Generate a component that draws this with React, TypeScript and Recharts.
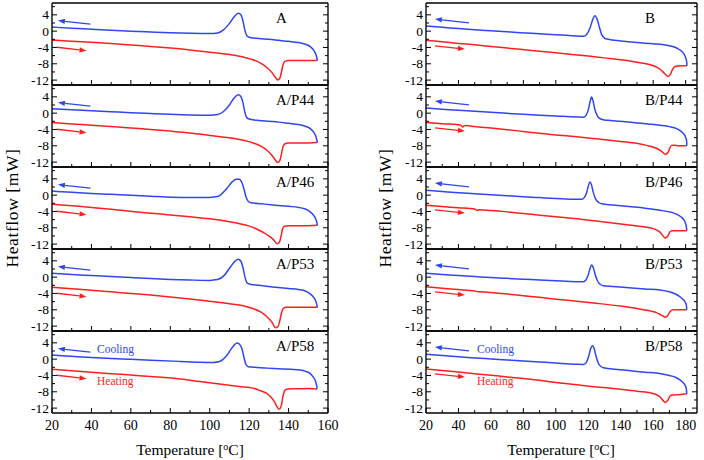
import React from "react";
import { LineChart, Line, XAxis, YAxis, ReferenceLine, CartesianGrid } from "recharts";

const BLUE = "#3046f2";
const RED = "#ff1f1f";
const SERIF = '"Liberation Serif", "Times New Roman", serif';

// axis ticks
const flowTicks = [-12, -10, -8, -6, -4, -2, 0, 2, 4, 6];
const flowLabels = [-12, -8, -4, 0, 4];
const flowDomain = [-13.2, 6.9];

const tempTicksA = [20, 30, 40, 50, 60, 70, 80, 90, 100, 110, 120, 130, 140, 150, 160];
const tempLabelsA = [20, 40, 60, 80, 100, 120, 140, 160];
const tempTicksB = [20, 30, 40, 50, 60, 70, 80, 90, 100, 110, 120, 130, 140, 150, 160, 170, 180];
const tempLabelsB = [20, 40, 60, 80, 100, 120, 140, 160, 180];

// direction arrows [from, to] as [°C, mW]
const coolArrowA = [[39.5, 1.7], [23, 2.6]];
const heatArrowA = [[22.5, -3.95], [37.5, -4.8]];
const coolArrowB = [[46.5, 2.05], [25.5, 2.95]];
const heatArrowB = [[25.5, -3.6], [44, -4.4]];

// DSC curves, [temperature °C, heatflow mW]
const coolA = [[20, 1.0], [30, 0.72], [40, 0.47], [50, 0.22], [60, 0.0], [70, -0.2], [80, -0.4], [90, -0.52], [100, -0.58], [104, -0.45], [107, 0.3], [110, 1.9], [112.5, 3.6], [114.5, 4.4], [115.8, 4.0], [116.8, 2.6], [117.8, 0.3], [118.8, -1.1], [120.5, -1.55], [125, -1.8], [130, -2.0], [135, -2.25], [140, -2.5], [145, -2.8], [148.5, -3.2], [151, -3.8], [152.8, -4.7], [153.9, -5.8], [154.4, -6.7], [154.6, -7.2]];
const heatA = [[20, -2.2], [30, -2.5], [40, -2.75], [50, -3.05], [60, -3.4], [70, -3.75], [80, -4.15], [90, -4.6], [100, -5.15], [110, -5.75], [117, -6.35], [122, -7.0], [126, -7.9], [129, -8.9], [131.5, -10.1], [133.3, -11.3], [134.5, -11.95], [135.5, -11.6], [136.4, -10.0], [137.2, -8.2], [138.2, -7.4], [140, -7.2], [145, -7.2], [150, -7.2], [154.6, -7.2]];

const coolAP44 = [[20, 1.1], [30, 0.85], [40, 0.6], [50, 0.35], [60, 0.1], [70, -0.1], [80, -0.3], [90, -0.45], [100, -0.5], [104, -0.35], [107, 0.4], [110, 2.0], [112.5, 3.8], [114.5, 4.5], [115.8, 4.1], [116.8, 2.7], [117.8, 0.3], [118.8, -1.1], [120.5, -1.5], [125, -1.8], [130, -2.0], [135, -2.2], [140, -2.5], [145, -2.8], [148.5, -3.2], [151, -3.8], [152.8, -4.7], [153.9, -5.8], [154.4, -6.7], [154.6, -7.2]];
const heatAP44 = [[20, -2.3], [30, -2.65], [40, -2.95], [50, -3.3], [60, -3.65], [70, -4.0], [80, -4.4], [90, -4.85], [100, -5.45], [110, -6.05], [117, -6.65], [122, -7.3], [126, -8.1], [129, -9.1], [131.5, -10.3], [133.3, -11.5], [134.5, -12.1], [135.5, -11.7], [136.4, -10.0], [137.2, -8.2], [138.2, -7.5], [140, -7.3], [145, -7.3], [150, -7.3], [154.6, -7.2]];

const coolAP46 = [[20, 1.0], [30, 0.7], [40, 0.43], [50, 0.2], [60, 0.0], [70, -0.25], [81, -0.5], [90, -0.55], [100, -0.55], [104, -0.35], [108.6, 1.6], [111.5, 3.3], [113.5, 3.9], [115, 3.9], [116.3, 3.1], [117.5, 1.3], [118.5, -0.6], [119.6, -1.55], [121, -1.85], [126, -2.1], [132, -2.4], [140, -2.75], [145, -3.0], [148.5, -3.4], [151, -4.1], [152.8, -5.0], [153.9, -6.0], [154.4, -6.8], [154.6, -7.4]];
const heatAP46 = [[20, -2.2], [30, -2.6], [40, -3.0], [50, -3.45], [64.6, -4.2], [80, -4.85], [90, -5.3], [100, -5.8], [110, -6.5], [118.8, -7.4], [123, -8.1], [127, -9.1], [130, -10.0], [132.3, -10.9], [134.2, -11.9], [135.3, -11.6], [136.2, -10.0], [137, -8.2], [138, -7.6], [140, -7.5], [145, -7.5], [150, -7.5], [154.6, -7.4]];

const coolAP53 = [[20, 0.95], [30, 0.65], [40, 0.4], [50, 0.15], [60, -0.1], [70, -0.35], [80, -0.55], [90, -0.7], [100, -0.8], [104, -0.6], [107.5, 0.5], [110.5, 2.5], [113, 4.0], [114.5, 4.4], [115.8, 3.9], [116.8, 2.5], [117.8, 0.2], [118.8, -1.3], [120.5, -1.75], [125, -2.0], [132, -2.4], [140, -2.8], [145, -3.05], [148.5, -3.4], [151, -4.1], [152.8, -5.0], [153.9, -6.0], [154.4, -6.9], [154.6, -7.4]];
const heatAP53 = [[20, -2.5], [30, -2.85], [40, -3.2], [50, -3.6], [60, -4.0], [70, -4.4], [80, -4.85], [90, -5.35], [100, -5.9], [110, -6.5], [117, -7.0], [122, -7.7], [126, -8.6], [129, -9.7], [131.5, -11.0], [133.4, -12.4], [134.5, -12.2], [135.5, -10.8], [136.5, -8.6], [137.5, -7.6], [139, -7.35], [145, -7.35], [150, -7.4], [154.6, -7.4]];

const coolAP58 = [[20, 1.0], [30, 0.7], [40, 0.4], [50, 0.15], [60, -0.05], [70, -0.25], [85, -0.55], [95, -0.75], [102, -0.8], [105, -0.6], [108, 0.5], [110.5, 2.2], [112.5, 3.5], [113.8, 3.95], [115, 3.7], [116.3, 2.6], [117.3, 0.6], [118.3, -1.2], [119.5, -1.85], [124, -2.05], [129, -2.2], [135, -2.35], [141, -2.5], [145.8, -2.65], [148.8, -3.0], [150.9, -3.5], [152.5, -4.4], [153.6, -5.3], [154.3, -6.7], [154.5, -7.3]];
const heatAP58 = [[20, -2.5], [30, -2.85], [40, -3.2], [50, -3.55], [60, -3.9], [70, -4.25], [85, -4.85], [95, -5.5], [105, -6.1], [115, -6.7], [122, -7.1], [126, -7.8], [128.9, -8.4], [131, -9.3], [132.8, -10.4], [134.2, -11.7], [135.2, -12.3], [136.2, -11.6], [137.2, -9.0], [138.2, -7.6], [139.5, -7.3], [145, -7.25], [150, -7.2], [154.5, -7.3]];

const coolB = [[20, 1.25], [30, 0.95], [40, 0.65], [50, 0.35], [60, 0.1], [70, -0.15], [78, -0.38], [90, -0.65], [100, -0.9], [110, -1.1], [117, -1.25], [119, -0.8], [121, 0.7], [122.7, 2.8], [124, 3.8], [125.3, 3.1], [126.7, 1.2], [128.2, -0.8], [130, -1.7], [132.3, -2.0], [140, -2.4], [150, -2.8], [160, -3.1], [168.3, -3.45], [173, -3.9], [176, -4.5], [178.6, -5.4], [180, -6.5], [180.7, -7.7], [180.8, -8.5]];
const heatB = [[20, -2.2], [30, -2.6], [40, -3.0], [50, -3.35], [60, -3.75], [70, -4.15], [78, -4.45], [90, -4.9], [100, -5.3], [110, -5.7], [120, -6.1], [130, -6.55], [140, -7.0], [150, -7.6], [157, -8.1], [161, -8.6], [164.5, -9.4], [167.3, -10.5], [169.2, -11.1], [170.6, -10.6], [171.8, -9.5], [173, -8.8], [175, -8.55], [178, -8.5], [180.8, -8.5]];

const coolBP44 = [[20, 1.25], [30, 0.95], [40, 0.7], [50, 0.45], [60, 0.2], [70, -0.05], [80, -0.3], [90, -0.5], [100, -0.7], [112.9, -0.95], [117, -1.0], [118.5, -0.6], [120, 0.8], [121, 2.6], [122, 3.95], [123, 2.9], [124, 1.0], [125.5, -0.6], [127, -1.3], [129, -1.6], [132, -1.75], [139.5, -2.0], [150, -2.4], [158, -2.7], [164.2, -2.97], [170, -3.3], [174.5, -3.8], [177, -4.4], [178.6, -5.0], [180, -5.9], [180.6, -6.8], [180.7, -8.0]];
const heatBP44 = [[20, -2.3], [30, -2.6], [40, -2.85], [41.5, -3.0], [42.5, -3.4], [43.5, -3.1], [45, -3.05], [50, -3.3], [60, -3.65], [70, -4.05], [80, -4.5], [90, -4.95], [100, -5.35], [112.9, -5.8], [125, -6.3], [140, -6.95], [149.8, -7.4], [156, -7.9], [160, -8.3], [162, -8.6], [165, -9.3], [167.5, -10.1], [169, -9.7], [170.2, -8.6], [171.2, -7.9], [173, -7.85], [176, -8.0], [180.7, -8.0]];

const coolBP46 = [[20, 1.2], [30, 0.9], [40, 0.6], [50, 0.35], [60, 0.1], [70, -0.15], [80, -0.4], [90, -0.6], [100, -0.8], [112.9, -1.0], [116, -1.0], [117.5, -0.6], [119, 0.6], [120, 2.2], [121, 3.2], [122, 2.5], [123, 0.8], [124.5, -0.9], [126.5, -1.8], [128.2, -2.1], [135, -2.4], [145, -2.8], [155, -3.2], [164.2, -3.7], [170, -4.1], [174.5, -4.7], [177, -5.3], [178.6, -5.9], [180, -7.0], [180.6, -8.2], [180.7, -8.7]];
const heatBP46 = [[20, -2.5], [30, -2.8], [40, -3.1], [50, -3.4], [51.5, -3.75], [53, -3.55], [60, -3.75], [70, -4.1], [80, -4.5], [90, -4.9], [100, -5.3], [112.9, -5.8], [125, -6.35], [140, -7.05], [150, -7.55], [160, -8.2], [164, -9.0], [167.5, -10.5], [169, -10.0], [170.3, -9.0], [171.5, -8.7], [175, -8.7], [180.7, -8.7]];

const coolBP53 = [[20, 0.95], [30, 0.65], [40, 0.4], [50, 0.15], [60, -0.1], [70, -0.3], [80, -0.5], [90, -0.7], [100, -0.9], [112.9, -1.1], [117, -1.1], [118.5, -0.7], [120, 0.6], [121, 2.0], [122.1, 2.98], [123.2, 2.2], [124.3, 0.6], [125.8, -1.0], [127.5, -1.8], [129.3, -2.1], [135, -2.3], [145, -2.6], [155, -2.9], [164.2, -3.15], [170, -3.6], [174, -4.2], [176.5, -4.8], [178.8, -5.6], [180.3, -6.6], [180.7, -8.0]];
const heatBP53 = [[20, -2.35], [30, -2.7], [40, -3.05], [50, -3.4], [52, -3.6], [53.5, -3.55], [60, -3.75], [70, -4.15], [80, -4.55], [90, -4.95], [100, -5.4], [112.9, -5.9], [125, -6.4], [140, -7.1], [150, -7.7], [157, -8.2], [162, -8.7], [165, -9.3], [167.5, -9.8], [169, -9.4], [170.5, -8.4], [172.4, -8.0], [176, -8.0], [180.7, -8.0]];

const coolBP58 = [[20, 1.2], [30, 0.9], [40, 0.6], [50, 0.3], [60, 0.05], [70, -0.2], [80, -0.45], [90, -0.7], [100, -0.95], [112.9, -1.25], [117, -1.3], [118.8, -0.8], [120.3, 0.8], [121.5, 2.6], [122.6, 3.3], [123.7, 2.5], [124.8, 0.7], [126.2, -1.0], [127.8, -1.8], [129.3, -2.1], [135, -2.4], [145, -2.8], [155, -3.2], [164, -3.5], [170, -4.0], [174, -4.5], [176.5, -5.1], [178.8, -5.9], [180.3, -7.0], [180.7, -8.5]];
const heatBP58 = [[20, -2.4], [30, -2.8], [40, -3.15], [50, -3.55], [60, -3.95], [70, -4.35], [80, -4.75], [90, -5.2], [100, -5.7], [112.9, -6.3], [125, -6.8], [140, -7.4], [150, -7.85], [160, -8.4], [164, -9.2], [167.5, -10.6], [169, -10.1], [170.5, -9.0], [172, -8.8], [176, -8.7], [180.7, -8.5]];

const panelsA = [
  { name: "A", cool: coolA, heat: heatA },
  { name: "A/P44", cool: coolAP44, heat: heatAP44 },
  { name: "A/P46", cool: coolAP46, heat: heatAP46 },
  { name: "A/P53", cool: coolAP53, heat: heatAP53 },
  { name: "A/P58", cool: coolAP58, heat: heatAP58 },
];
const panelsB = [
  { name: "B", cool: coolB, heat: heatB },
  { name: "B/P44", cool: coolBP44, heat: heatBP44 },
  { name: "B/P46", cool: coolBP46, heat: heatBP46 },
  { name: "B/P53", cool: coolBP53, heat: heatBP53 },
  { name: "B/P58", cool: coolBP58, heat: heatBP58 },
];

const colA = { left: 0, plotW: 276, padR: 14, domain: [20, 160], ticks: tempTicksA, labels: tempLabelsA, coolArrow: coolArrowA, heatArrow: heatArrowA, titleX: 190, yTitleX: 12, legendX: 45 };
const colB = { left: 374, plotW: 271, padR: 4, domain: [20, 187], ticks: tempTicksB, labels: tempLabelsB, coolArrow: coolArrowB, heatArrow: heatArrowB, titleX: 561, yTitleX: 385, legendX: 51 };

const PANEL_TOP = 3;
const PANEL_H = 82;
const AXIS_W = 52;
const PAD_Y = 7;
const frame = { stroke: "#000", strokeWidth: 1.3 };

const toRows = (pts: number[][]) => pts.map(([t, h]) => ({ t, h }));

const BottomTick = (p: any) => {
  const major = p.labels.includes(p.payload.value);
  return (
    <g>
      <line x1={p.x} y1={p.y} x2={p.x} y2={p.y - (major ? 5 : 3)} stroke="#000" />
      {p.show && major && (
        <text x={p.x} y={p.y + 17} textAnchor="middle" fontSize={14} fontFamily={SERIF} fill="#000">{p.payload.value}</text>
      )}
    </g>
  );
};
const TopTick = (p: any) => {
  const major = p.labels.includes(p.payload.value);
  return <line x1={p.x} y1={p.y} x2={p.x} y2={p.y + (major ? 5 : 3)} stroke="#000" />;
};
const LeftTick = (p: any) => {
  const major = flowLabels.includes(p.payload.value);
  return (
    <g>
      <line x1={p.x} y1={p.y} x2={p.x + (major ? 5 : 3)} y2={p.y} stroke="#000" />
      {major && (
        <text x={p.x - 3} y={p.y + 4.5} textAnchor="end" fontSize={13.5} fontFamily={SERIF} fill="#000">{p.payload.value}</text>
      )}
    </g>
  );
};
const RightTick = (p: any) => {
  const major = flowLabels.includes(p.payload.value);
  return <line x1={p.x} y1={p.y} x2={p.x - (major ? 5 : 3)} y2={p.y} stroke="#000" />;
};

const arrowShape = (color: string) => (p: any) => {
  const { x1, y1, x2, y2 } = p;
  const a = Math.atan2(y2 - y1, x2 - x1);
  const L = 7, W = 2.6;
  const bx = x2 - L * Math.cos(a), by = y2 - L * Math.sin(a);
  const nx = -Math.sin(a) * W, ny = Math.cos(a) * W;
  return (
    <g>
      <line x1={x1} y1={y1} x2={bx} y2={by} stroke={color} strokeWidth={1.3} />
      <polygon points={`${x2},${y2} ${bx + nx},${by + ny} ${bx - nx},${by - ny}`} fill={color} />
    </g>
  );
};

function Panel({ p, c, i, last }: any) {
  const top = PANEL_TOP + i * PANEL_H;
  const height = PANEL_H + 2 + 2 * PAD_Y + (last ? 30 : 0);
  const grid = c.labels.filter((v: number) => v > c.domain[0] && v < c.domain[1]);
  return (
    <div style={{ position: "absolute", left: c.left, top: top - 1 - PAD_Y }}>
      <LineChart width={AXIS_W + c.plotW + 1 + c.padR} height={height} margin={{ top: PAD_Y, right: c.padR, bottom: PAD_Y, left: 0 }}>
        <CartesianGrid xAxisId="grid" horizontal={false} stroke="#d9dde1" strokeWidth={1} />
        <XAxis xAxisId="grid" type="number" domain={c.domain} allowDataOverflow ticks={grid} hide />
        <XAxis dataKey="t" type="number" domain={c.domain} allowDataOverflow ticks={c.ticks} interval={0}
          height={last ? 31 : 1} tickSize={0} tickMargin={0} tickLine={false} axisLine={frame}
          tick={(tp: any) => <BottomTick {...tp} labels={c.labels} show={last} />} />
        <XAxis xAxisId="top" orientation="top" type="number" domain={c.domain} allowDataOverflow ticks={c.ticks} interval={0}
          height={1} tickSize={0} tickMargin={0} tickLine={false} axisLine={frame}
          tick={(tp: any) => <TopTick {...tp} labels={c.labels} />} />
        <YAxis type="number" domain={flowDomain} allowDataOverflow ticks={flowTicks} interval={0}
          width={AXIS_W} tickSize={0} tickMargin={0} tickLine={false} axisLine={frame}
          tick={(tp: any) => <LeftTick {...tp} />} />
        <YAxis yAxisId="right" orientation="right" type="number" domain={flowDomain} allowDataOverflow ticks={flowTicks} interval={0}
          width={1} tickSize={0} tickMargin={0} tickLine={false} axisLine={frame}
          tick={(tp: any) => <RightTick {...tp} />} />
        <ReferenceLine segment={c.coolArrow.map(([x, y]: number[]) => ({ x, y }))} shape={arrowShape(BLUE)} />
        <ReferenceLine segment={c.heatArrow.map(([x, y]: number[]) => ({ x, y }))} shape={arrowShape(RED)} />
        <Line data={toRows(p.heat)} dataKey="h" type="monotone" stroke={RED} strokeWidth={1.5} dot={false} activeDot={false} isAnimationActive={false} />
        <Line data={toRows(p.cool)} dataKey="h" type="monotone" stroke={BLUE} strokeWidth={1.5} dot={false} activeDot={false} isAnimationActive={false} />
        <text x={AXIS_W + c.plotW - 52} y={PAD_Y + 21} fontSize={15} fontFamily={SERIF} fill="#000">{p.name}</text>
        {last && <text x={AXIS_W + c.legendX} y={PAD_Y + 23} fontSize={11.5} fontFamily={SERIF} fill={BLUE}>Cooling</text>}
        {last && <text x={AXIS_W + c.legendX} y={PAD_Y + 55} fontSize={11.5} fontFamily={SERIF} fill={RED}>Heating</text>}
      </LineChart>
    </div>
  );
}

function Column({ c, panels }: any) {
  const mid = PANEL_TOP + (PANEL_H * 5) / 2;
  return (
    <>
      {panels.map((p: any, i: number) => (
        <Panel key={p.name} p={p} c={c} i={i} last={i === panels.length - 1} />
      ))}
      <div style={{ position: "absolute", left: c.titleX - 100, top: 437, width: 200, textAlign: "center", fontFamily: SERIF, fontSize: 15.5, lineHeight: "20px" }}>
        Temperature [<span style={{ fontSize: 10, verticalAlign: 5 }}>o</span>C]
      </div>
      <div style={{ position: "absolute", left: c.yTitleX - 100, top: mid - 10, width: 200, height: 20, lineHeight: "20px", textAlign: "center", fontFamily: SERIF, fontSize: 17.5, letterSpacing: 0.6, transform: "rotate(-90deg)" }}>
        Heatflow [mW]
      </div>
    </>
  );
}

export default function App() {
  return (
    <div style={{ position: "absolute", left: 0, top: 0, width: 704, height: 460, background: "#fff", overflow: "hidden" }}>
      <Column c={colA} panels={panelsA} />
      <Column c={colB} panels={panelsB} />
    </div>
  );
}
